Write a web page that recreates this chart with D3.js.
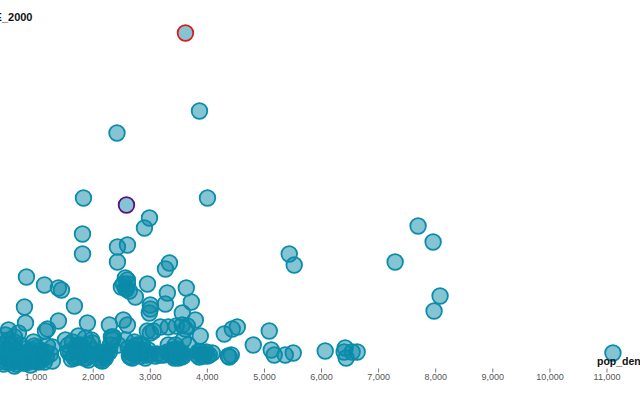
<!DOCTYPE html>
<html>
<head>
<meta charset="utf-8">
<script src="https://cdn.jsdelivr.net/npm/d3@7"></script>
<style>
  html, body { margin: 0; padding: 0; background: #fff; overflow: hidden; }
  svg { display: block; font-family: "Liberation Sans", Arial, sans-serif; }
</style>
</head>
<body>
<svg id="chart" width="640" height="400"></svg>
<script>
// values, first two are the highlighted countries
const popDen = [
  3616, 2583, 3862, 2417, 1830, 4002, 2986, 2898, 1813, 2600, 2425, 1813, 2425, 3336, 3266, 831, 1146, 1391, 1444, 2951,
  2564, 2599, 2529, 2599, 2494, 2581, 2634, 2564, 3631, 3299, 2739, 3719, 3264, 1671, 796, 3001, 3001, 2984, 3561, 3789,
  1391, 2529, 2599, 1899, 814, 2284, 3316, 3176, 3561, 3649, 3456, 3614, 4524, 4436, 4296, 3876, 5084, 2949, 3054, 3001,
  2319, 2354, 1199, 1164, 516, 691, 464, 621, 4804, 5119, 5171, 5364, 5504, 6064, 6414, 6396, 6431, 6536, 6624, 7289,
  7691, 7954, 8076, 7971, 5434, 5521, 11104,
  411, 464, 534, 586, 656, 691, 761, 814, 866, 919, 971, 1006, 1041, 954, 1111, 1164, 1199, 1286, 1286, 726,
  551, 376, 341, 429, 621, 481, 796, 901, 1006, 1076, 849, 639, 726, 1146, 989, 814, 901, 516, 376, 621,
  1514, 1566, 1619, 1706, 1741, 1776, 1636, 1864, 1916, 1969, 1986, 1846, 1776, 1689, 1566, 1951, 1881, 2144, 2196, 2249,
  2126, 2179, 2301, 2336, 2214,
  2441, 2564, 2634, 2686, 2721, 2791, 2861, 2931, 2966, 2756, 2861, 2686, 2616, 2739, 3089, 3176, 3229, 3299, 3386, 3439,
  3456, 3491, 3526, 3421, 3369, 3509, 3561, 3579, 3666, 3316,
  3824, 3876, 3929, 3981, 4034, 4086, 3859, 3964, 4366, 4419, 4384,
  446, 516, 569, 621, 691, 744, 796, 866, 936, 954, 1041, 1094, 1181, 1251, 586, 481, 761, 1006, 866, 656, 1076,
  1601, 1654, 1741, 1811, 1881, 1916, 1829, 1724, 1986, 1671, 2161, 2231, 2179, 2284, 2126,
  2651, 2704, 2756, 2826, 2896, 2809, 2651, 2914, 3001, 3124, 3404, 3456, 3474, 3544, 3421, 3351, 3491, 3579,
  3894, 3841, 3999, 3929
];
const value2000 = [
  334, 162, 256, 234, 169, 169, 149, 139, 133, 122, 120, 113, 105, 104, 98, 90, 82, 79, 77, 83,
  89, 87, 83, 83, 80, 78, 76, 79, 79, 74, 70, 65, 63, 61, 60, 62, 58, 54, 54, 47,
  46, 47, 42, 44, 44, 42, 40, 40, 42, 41, 41, 38, 40, 38, 33, 31, 36, 36, 36, 34,
  30, 30, 38, 36, 37, 34, 32, 30, 22, 17, 12, 12, 14, 16, 19, 15, 9, 15, 15, 105,
  141, 125, 71, 56, 113, 102, 14,
  15, 9, 5, 12, 17, 6, 11, 4, 15, 9, 21, 13, 5, 25, 9, 15, 21, 6, 20, 22,
  22, 22, 5, 3, 1, 17, 18, 2, 19, 17, 7, 9, 14, 5, 9, 12, 17, 27, 27, 25,
  27, 22, 8, 15, 31, 22, 25, 29, 22, 27, 17, 9, 15, 19, 15, 12, 15, 9, 11, 15,
  13, 15, 22, 27, 9,
  22, 27, 11, 14, 25, 17, 14, 12, 17, 22, 22, 9, 19, 12, 11, 12, 12, 15, 17, 22,
  12, 9, 15, 17, 12, 11, 14, 27, 22, 22,
  12, 15, 11, 15, 12, 14, 10, 13, 11, 12, 10,
  11, 14, 8, 15, 12, 8, 9, 10, 13, 6, 11, 14, 10, 13, 5, 5, 4, 6, 5, 3, 6,
  14, 11, 10, 12, 9, 7, 18, 22, 24, 9, 6, 12, 11, 15, 7,
  15, 17, 14, 11, 16, 22, 10, 9, 13, 13, 11, 15, 18, 10, 9, 15, 13, 11,
  12, 15, 11, 14
];
const xTicks = [1000, 2000, 3000, 4000, 5000, 6000, 7000, 8000, 9000, 10000, 11000];
const strokeByIndex = { 0: '#dc1c1c', 1: '#5b0f80' };

const svg = d3.select('#chart');

const x = d3.scaleLinear().domain([0, 11000]).range([-21, 607]);
const y = d3.scaleLinear().domain([0, 350]).range([367, 17]);

// axis first, circles sit on top of it
const axis = svg.append('g')
    .attr('transform', 'translate(-0.5,368.5)')
    .call(d3.axisBottom(x).tickValues(xTicks).tickSize(4).tickPadding(1).tickFormat(d3.format(',')));
axis.select('.domain').remove();
axis.selectAll('line').attr('stroke', '#777');
axis.selectAll('text').attr('fill', '#555').style('font-size', '9px').style('font-family', 'inherit');

svg.append('g')
    .selectAll('circle')
    .data(popDen)
    .join('circle')
    .attr('cx', d => x(d))
    .attr('cy', (d, i) => y(value2000[i]))
    .attr('r', 7.8)
    .attr('fill', '#0c8aa8')
    .attr('fill-opacity', 0.5)
    .attr('stroke', (d, i) => strokeByIndex[i] || '#0a8cab')
    .attr('stroke-width', 1.8);

svg.append('text')
    .attr('x', 32.5)
    .attr('y', 21)
    .attr('text-anchor', 'end')
    .attr('font-size', 11)
    .attr('font-weight', 'bold')
    .attr('fill', '#111')
    .text('E_2000');

svg.append('text')
    .attr('x', 597)
    .attr('y', 365)
    .attr('font-size', 10.5)
    .attr('font-weight', 'bold')
    .attr('fill', '#111')
    .text('pop_den');
</script>
</body>
</html>
